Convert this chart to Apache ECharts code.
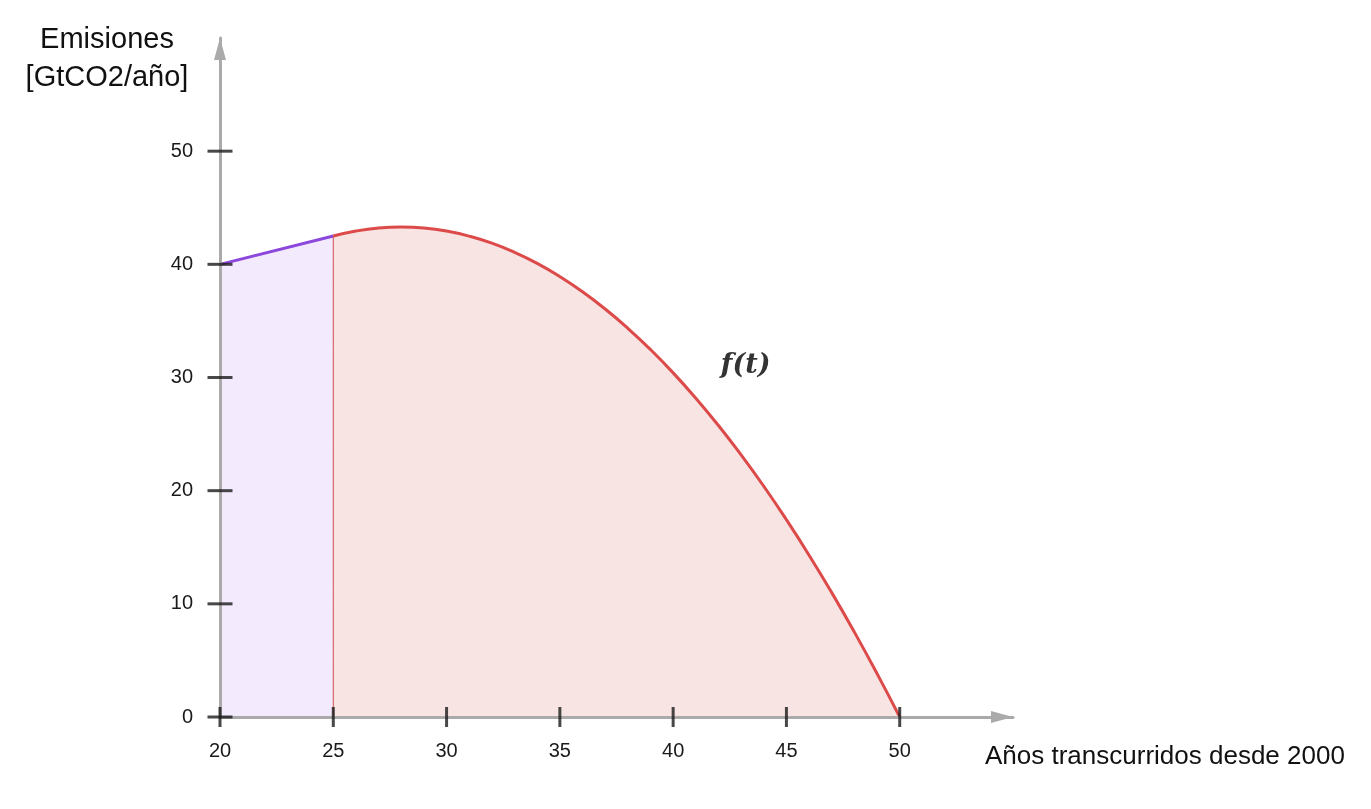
<!DOCTYPE html>
<html>
<head>
<meta charset="utf-8">
<script src="https://cdn.jsdelivr.net/npm/echarts@6/dist/echarts.min.js"></script>
<style>html,body{margin:0;padding:0;background:#fff}#c{width:1371px;height:809px}</style>
</head>
<body>
<div id="c"></div>
<script>
// ---- data ----
const xTicks = [20, 25, 30, 35, 40, 45, 50];
const yTicks = [0, 10, 20, 30, 40, 50];
const linearYears = [20, 25];
const linearValues = [40, 42.5];
const curveYears = [25,26,27,28,29,30,31,32,33,34,35,36,37,38,39,40,41,42,43,44,45,46,47,48,49,50];
const curveValues = [42.50,42.94,43.21,43.30,43.21,42.94,42.49,41.87,41.06,40.08,38.91,37.57,36.05,34.35,32.47,30.41,28.17,25.76,23.16,20.39,17.43,14.30,10.99,7.50,3.83,0];
const yName = 'Emisiones\n[GtCO2/año]';
const xName = 'Años transcurridos desde 2000';
const curveLabel = 'f(t)';

const FONT = '"Liberation Sans", Arial, sans-serif';
const chart = echarts.init(document.getElementById('c'));
const zip = (a, b) => a.map((v, i) => [v, b[i]]);

chart.setOption({
  animation: false,
  grid: { left: 220, right: 358, top: 38, bottom: 92 },
  xAxis: {
    type: 'value', min: 20, max: 55, interval: 5,
    splitLine: { show: false },
    axisTick: { show: false },
    axisLine: { show: true, onZero: false, symbol: ['none', 'triangle'], symbolSize: [12, 22], symbolOffset: [0, -11],
      lineStyle: { color: '#aaaaaa', width: 3 } },
    axisLabel: { color: '#1a1a1a', fontFamily: FONT, fontSize: 20, margin: 24,
      formatter: v => (xTicks.indexOf(v) >= 0 ? String(v) : '') },
    z: 3
  },
  yAxis: {
    type: 'value', min: 0, max: 60, interval: 10,
    splitLine: { show: false },
    axisTick: { show: false },
    axisLine: { show: true, onZero: false, symbol: ['none', 'triangle'], symbolSize: [12, 22], symbolOffset: [0, -11],
      lineStyle: { color: '#aaaaaa', width: 3 } },
    axisLabel: { color: '#1a1a1a', fontFamily: FONT, fontSize: 20, margin: 27,
      formatter: v => (yTicks.indexOf(v) >= 0 ? String(v) : '') },
    z: 3
  },
  graphic: [
    { type: 'text', x: 107, y: 21, z: 10,
      style: { text: yName, textAlign: 'center', fontFamily: FONT, fontSize: 29, lineHeight: 38, fill: '#111' } },
    { type: 'text', x: 985, y: 744, z: 10,
      style: { text: xName, textAlign: 'left', fontFamily: FONT, fontSize: 26, fill: '#111' } }
  ],
  series: [
    {
      type: 'line', data: zip(linearYears, linearValues), symbol: 'none', z: 2,
      lineStyle: { color: '#8c47dc', width: 3 },
      areaStyle: { color: '#f3eafd', opacity: 1 }
    },
    {
      type: 'line', data: zip(curveYears, curveValues), symbol: 'none', smooth: true, z: 2,
      lineStyle: { color: '#dc4a4a', width: 3 },
      areaStyle: { color: '#f8e4e3', opacity: 1 }
    },
    {
      type: 'line', data: [[linearYears[1], 0], [linearYears[1], linearValues[1]]], symbol: 'none', z: 2,
      lineStyle: { color: '#d05050', width: 1 }
    },
    {
      type: 'scatter', data: xTicks.map(v => [v, 0]), symbol: 'rect', symbolSize: [3, 20], z: 5,
      itemStyle: { color: '#1a1a1a' }, silent: true
    },
    {
      type: 'scatter', data: yTicks.map(v => [20, v]), symbol: 'rect', symbolSize: [25, 3], z: 5,
      itemStyle: { color: '#1a1a1a' }, silent: true
    },
    {
      type: 'scatter', data: [[43.2, 31.0]], symbolSize: 0, z: 6, silent: true,
      label: { show: true, position: 'inside', formatter: curveLabel, color: '#000',
        fontFamily: '"DejaVu Serif", serif', fontStyle: 'italic', fontWeight: 'bold', fontSize: 27 }
    }
  ]
});
</script>
</body>
</html>
